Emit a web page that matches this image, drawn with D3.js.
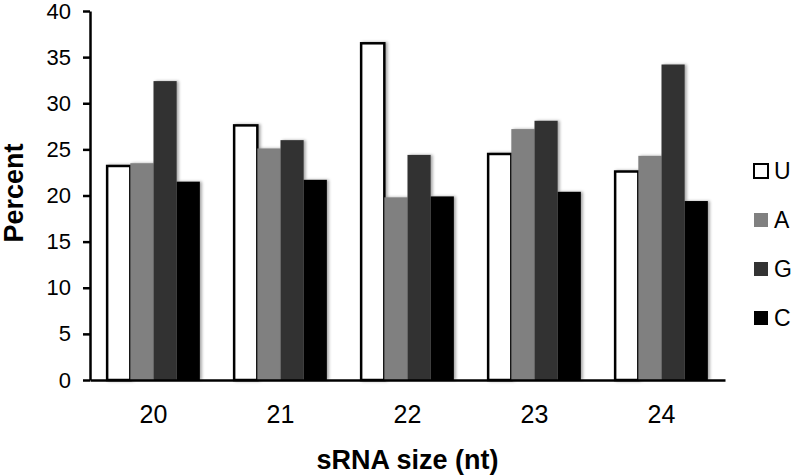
<!DOCTYPE html>
<html>
<head>
<meta charset="utf-8">
<script src="https://cdn.jsdelivr.net/npm/d3@7"></script>
<style>
  body { margin: 0; background: #fff; }
  svg { font-family: "Liberation Sans", Arial, sans-serif; }
</style>
</head>
<body>
<svg id="chart"></svg>
<script>
// 데이터
const sizes = ["20", "21", "22", "23", "24"];
const bases = ["U", "A", "G", "C"];
const valU = [23.2, 27.6, 36.5, 24.5, 22.6];
const valA = [23.5, 25.1, 19.8, 27.2, 24.3];
const valG = [32.4, 26.0, 24.4, 28.1, 34.2];
const valC = [21.5, 21.7, 19.9, 20.4, 19.4];
const yTicks = [0, 5, 10, 15, 20, 25, 30, 35, 40];

const series = { U: valU, A: valA, G: valG, C: valC };
const fills = { U: "#ffffff", A: "#808080", G: "#333333", C: "#000000" };

const width = 796, height = 475;
const margin = { top: 11, right: 71, bottom: 95, left: 90 };

const svg = d3.select("#chart")
              .attr("width", width)
              .attr("height", height);

// 그림자
const defs = svg.append("defs");
const shadow = defs.append("filter").attr("id", "shadow")
                   .attr("x", "-20%").attr("y", "-5%").attr("width", "150%").attr("height", "110%");
shadow.append("feDropShadow")
      .attr("dx", 2).attr("dy", 0).attr("stdDeviation", 1.5)
      .attr("flood-color", "#000").attr("flood-opacity", 0.35);

const x0 = d3.scaleBand(sizes, [margin.left, width - margin.right])
             .paddingInner(0.27).paddingOuter(0.135);
const x1 = d3.scaleBand(bases, [0, x0.bandwidth()]);
const y = d3.scaleLinear([0, 40], [height - margin.bottom, margin.top]);

// 막대
const groups = svg.append("g")
                  .selectAll("g")
                  .data(sizes)
                  .join("g")
                  .attr("transform", d => `translate(${x0(d)},0)`);

groups.selectAll("rect")
      .data((d, i) => bases.map(b => ({ b, v: series[b][i] })))
      .join("rect")
      .attr("x", d => x1(d.b))
      .attr("y", d => y(d.v))
      .attr("width", x1.bandwidth())
      .attr("height", d => y(0) - y(d.v))
      .attr("fill", d => fills[d.b])
      .attr("stroke", d => d.b === "U" ? "#000" : "none")
      .attr("stroke-width", 2.5)
      .attr("filter", "url(#shadow)");

// y축
const yAxis = d3.axisLeft(y).tickValues(yTicks).tickSize(7).tickSizeOuter(0).tickPadding(12);
svg.append("g")
   .attr("transform", `translate(${margin.left},0)`)
   .call(yAxis)
   .call(g => g.select(".domain").attr("stroke-width", 2.5))
   .call(g => g.selectAll(".tick line").attr("stroke-width", 2.5))
   .call(g => g.selectAll(".tick text").attr("font-size", 22).attr("fill", "#000"));

// x축
const xAxis = d3.axisBottom(x0).tickSize(0).tickSizeOuter(0).tickPadding(25);
svg.append("g")
   .attr("transform", `translate(0,${height - margin.bottom})`)
   .call(xAxis)
   .call(g => g.select(".domain").attr("stroke-width", 2.5))
   .call(g => g.selectAll(".tick text").attr("font-size", 25).attr("fill", "#000"));

// 축 제목
svg.append("text")
   .attr("x", (margin.left + width - margin.right) / 2)
   .attr("y", 469)
   .attr("text-anchor", "middle")
   .attr("font-size", 27)
   .attr("font-weight", "bold")
   .text("sRNA size (nt)");

svg.append("text")
   .attr("transform", "translate(23,193) rotate(-90)")
   .attr("text-anchor", "middle")
   .attr("font-size", 27)
   .attr("font-weight", "bold")
   .text("Percent");

// 범례
const legend = svg.append("g")
                  .selectAll("g")
                  .data(bases)
                  .join("g")
                  .attr("transform", (d, i) => `translate(754,${171 + i * 49})`);

legend.append("rect")
      .attr("x", 0).attr("y", -7)
      .attr("width", 14).attr("height", 14)
      .attr("fill", d => fills[d])
      .attr("stroke", d => d === "U" ? "#000" : "none")
      .attr("stroke-width", 2);

legend.append("text")
      .attr("x", 20).attr("y", 8)
      .attr("font-size", 23)
      .text(d => d);
</script>
</body>
</html>
